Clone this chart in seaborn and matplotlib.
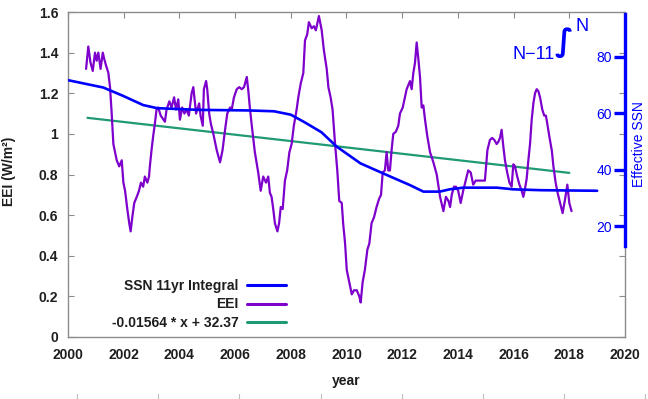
import numpy as np
import pandas as pd
import matplotlib
matplotlib.use("Agg")
import matplotlib.pyplot as plt
from matplotlib.lines import Line2D
import seaborn as sns

# ---------------- data ----------------
eei_year = [2000.65, 2000.73, 2000.81, 2000.89, 2000.97, 2001.03, 2001.09, 2001.17, 2001.25, 2001.30,
            2001.36, 2001.45, 2001.51, 2001.57, 2001.63, 2001.75, 2001.84, 2001.93, 2001.99, 2002.05,
            2002.13, 2002.20, 2002.25, 2002.31, 2002.38, 2002.47, 2002.55, 2002.62, 2002.70, 2002.76,
            2002.85, 2002.91, 2002.94, 2003.00, 2003.06, 2003.12, 2003.18, 2003.24, 2003.33, 2003.48,
            2003.54, 2003.64, 2003.72, 2003.81, 2003.88, 2003.96, 2004.02, 2004.10, 2004.18, 2004.26,
            2004.34, 2004.44, 2004.50, 2004.60, 2004.71, 2004.76, 2004.84, 2004.88, 2004.96, 2005.00,
            2005.07, 2005.13, 2005.22, 2005.34, 2005.46, 2005.55, 2005.64, 2005.72, 2005.82, 2005.88,
            2005.96, 2006.06, 2006.15, 2006.24, 2006.32, 2006.42, 2006.47, 2006.53, 2006.60, 2006.71,
            2006.83, 2006.92, 2007.01, 2007.11, 2007.19, 2007.25, 2007.31, 2007.37, 2007.43, 2007.52,
            2007.58, 2007.64, 2007.71, 2007.79, 2007.87, 2007.95, 2008.03, 2008.11, 2008.21, 2008.27,
            2008.36, 2008.45, 2008.51, 2008.59, 2008.65, 2008.75, 2008.83, 2008.90, 2009.01, 2009.11,
            2009.19, 2009.29, 2009.35, 2009.43, 2009.50, 2009.59, 2009.67, 2009.74, 2009.83, 2009.88,
            2009.95, 2010.01, 2010.10, 2010.19, 2010.27, 2010.37, 2010.46, 2010.51, 2010.58, 2010.66,
            2010.75, 2010.82, 2010.90, 2010.99, 2011.08, 2011.17, 2011.24, 2011.30, 2011.38, 2011.44,
            2011.50, 2011.56, 2011.62, 2011.68, 2011.77, 2011.86, 2011.92, 2012.02, 2012.10, 2012.16,
            2012.22, 2012.28, 2012.34, 2012.40, 2012.46, 2012.52, 2012.58, 2012.64, 2012.70, 2012.76,
            2012.82, 2012.90, 2013.00, 2013.12, 2013.24, 2013.36, 2013.48, 2013.57, 2013.66, 2013.72,
            2013.78, 2013.86, 2013.93, 2014.01, 2014.10, 2014.19, 2014.28, 2014.37, 2014.46, 2014.55,
            2014.64, 2014.73, 2014.85, 2014.97, 2015.06, 2015.15, 2015.23, 2015.31, 2015.39, 2015.45,
            2015.51, 2015.57, 2015.63, 2015.69, 2015.77, 2015.85, 2015.93, 2015.99, 2016.05, 2016.13,
            2016.21, 2016.29, 2016.35, 2016.41, 2016.47, 2016.53, 2016.59, 2016.65, 2016.71, 2016.77,
            2016.83, 2016.89, 2016.95, 2017.03, 2017.10, 2017.16, 2017.21, 2017.28, 2017.37, 2017.43,
            2017.51, 2017.58, 2017.67, 2017.76, 2017.85, 2017.93, 2018.00, 2018.08]
eei_value = [1.32, 1.43, 1.35, 1.31, 1.40, 1.36, 1.40, 1.32, 1.40, 1.37,
             1.34, 1.30, 1.23, 1.10, 0.95, 0.87, 0.84, 0.87, 0.76, 0.72,
             0.63, 0.56, 0.52, 0.59, 0.66, 0.69, 0.72, 0.76, 0.74, 0.79,
             0.76, 0.79, 0.84, 0.92, 0.99, 1.05, 1.12, 1.13, 1.09, 1.06,
             1.12, 1.16, 1.13, 1.18, 1.12, 1.17, 1.07, 1.13, 1.10, 1.12,
             1.09, 1.20, 1.23, 1.10, 1.15, 1.09, 1.04, 1.22, 1.26, 1.22,
             1.10, 1.05, 1.00, 0.92, 0.86, 0.92, 1.02, 1.10, 1.13, 1.12,
             1.18, 1.22, 1.23, 1.22, 1.23, 1.28, 1.22, 1.13, 1.04, 0.91,
             0.81, 0.72, 0.79, 0.76, 0.79, 0.71, 0.69, 0.63, 0.56, 0.52,
             0.56, 0.64, 0.63, 0.77, 0.82, 0.91, 0.95, 1.04, 1.12, 1.18,
             1.25, 1.30, 1.46, 1.49, 1.55, 1.52, 1.53, 1.51, 1.58, 1.51,
             1.41, 1.32, 1.23, 1.18, 1.12, 0.95, 0.82, 0.67, 0.66, 0.56,
             0.46, 0.33, 0.27, 0.21, 0.23, 0.23, 0.20, 0.17, 0.27, 0.33,
             0.43, 0.46, 0.56, 0.59, 0.64, 0.68, 0.70, 0.81, 0.82, 0.91,
             0.82, 0.82, 0.92, 1.00, 1.01, 1.04, 1.10, 1.13, 1.18, 1.22,
             1.24, 1.26, 1.22, 1.30, 1.35, 1.45, 1.37, 1.28, 1.13, 1.14,
             1.07, 0.99, 0.91, 0.86, 0.80, 0.69, 0.62, 0.69, 0.67, 0.64,
             0.70, 0.74, 0.74, 0.72, 0.66, 0.72, 0.77, 0.82, 0.81, 0.75,
             0.77, 0.77, 0.77, 0.77, 0.92, 0.97, 0.98, 0.97, 0.95, 0.96,
             0.98, 1.02, 0.94, 0.87, 0.81, 0.76, 0.74, 0.85, 0.84, 0.79,
             0.75, 0.72, 0.69, 0.73, 0.78, 0.87, 0.95, 1.07, 1.15, 1.20,
             1.22, 1.21, 1.18, 1.12, 1.09, 1.09, 1.05, 0.99, 0.92, 0.84,
             0.76, 0.71, 0.66, 0.61, 0.68, 0.75, 0.66, 0.62]

ssn_year = [2000.0, 2001.27, 2001.99, 2002.70, 2003.2, 2004.7, 2006.5, 2007.4, 2008.0, 2008.5,
            2009.1, 2009.65, 2010.5, 2011.44, 2012.28, 2012.76, 2013.35, 2013.7, 2014.2, 2015.4,
            2016.0, 2017.0, 2019.0]
ssn_value = [71.7, 69.1, 66.1, 62.9, 61.8, 61.2, 61.0, 60.7, 59.5, 56.8,
             53.3, 48.2, 42.3, 38.2, 34.6, 32.3, 32.3, 33.1, 33.7, 33.7,
             33.1, 32.8, 32.6]

fit_year = [2000.7, 2018.0]
fit_value = [1.079, 0.808]

x_ticks = [2000, 2002, 2004, 2006, 2008, 2010, 2012, 2014, 2016, 2018, 2020]
y_ticks = [0, 0.2, 0.4, 0.6, 0.8, 1.0, 1.2, 1.4, 1.6]
y_tick_labels = ["0", "0.2", "0.4", "0.6", "0.8", "1", "1.2", "1.4", "1.6"]
ssn_ticks = [20, 40, 60, 80]

label_ssn = "SSN 11yr Integral"
label_eei = "EEI"
label_fit = "-0.01564 * x + 32.37"

# ---------------- style ----------------
sns.set_theme(style="white")
plt.rcParams["font.family"] = ["Liberation Sans", "DejaVu Sans"]

BLUE = "#0000ff"
PURPLE = "#7d00cc"
GREEN = "#1f9a74"
GRAY = "#8c8c8c"
TXT = "#1e1e1e"

fig = plt.figure(figsize=(6.48, 3.99), dpi=100)
fig.patch.set_facecolor("white")
ax = fig.add_axes([0.1049, 0.1554, 0.8596, 0.8145])
ax2 = ax.twinx()

df_eei = pd.DataFrame({"year": eei_year, "val": eei_value})
df_fit = pd.DataFrame({"year": fit_year, "val": fit_value})
df_ssn = pd.DataFrame({"year": ssn_year, "val": ssn_value})

sns.lineplot(data=df_eei, x="year", y="val", ax=ax, color=PURPLE, lw=1.6,
             label=label_eei, legend=False, zorder=3)
sns.lineplot(data=df_fit, x="year", y="val", ax=ax, color=GREEN, lw=1.6,
             label=label_fit, legend=False, zorder=2)
sns.lineplot(data=df_ssn, x="year", y="val", ax=ax2, color=BLUE, lw=1.9,
             label=label_ssn, legend=False, zorder=4)

# main axes
ax.set_xlim(2000, 2020)
ax.set_ylim(0, 1.6)
ax.set_xticks(x_ticks)
ax.set_xticklabels([str(t) for t in x_ticks])
ax.set_yticks(y_ticks)
ax.set_yticklabels(y_tick_labels)
for s in ax.spines.values():
    s.set_color(GRAY)
    s.set_linewidth(1.0)
ax.tick_params(axis="both", direction="in", length=4, width=0.8, color=GRAY,
               labelsize=10, labelcolor=TXT, top=True, right=True,
               labelright=False, labeltop=False)
ax.tick_params(axis="x", pad=8)
ax.tick_params(axis="y", pad=7)
for t in ax.get_xticklabels() + ax.get_yticklabels():
    t.set_fontweight("bold")
ax.set_xlabel("year", fontsize=10, fontweight="bold", color=TXT)
ax.set_ylabel("EEI (W/m²)", fontsize=10, fontweight="bold", color=TXT)
ax.xaxis.set_label_coords(0.5, -0.136)
ax.xaxis.label.set_va("center")
ax.yaxis.set_label_coords(-0.106, 0.51)
ax.yaxis.label.set_va("center")

# secondary axis
ax2.set_ylim(-19.1, 95.8)
ax2.set_yticks(ssn_ticks)
ax2.set_yticklabels([str(t) for t in ssn_ticks])
for k in ["left", "top", "bottom"]:
    ax2.spines[k].set_visible(False)
ax2.spines["right"].set_color(BLUE)
ax2.spines["right"].set_linewidth(2.4)
ax2.spines["right"].set_bounds(13, 95)
ax2.tick_params(axis="y", direction="in", length=8, width=2.4, color=BLUE,
                labelcolor=BLUE, labelsize=10, pad=-9.5)
for t in ax2.get_yticklabels():
    t.set_horizontalalignment("right")
ax2.set_ylabel("Effective SSN", fontsize=10, color=BLUE)
ax2.yaxis.set_label_coords(1.025, 0.594)
ax2.yaxis.label.set_va("center")
ax2.set_xlabel("")

# N-11 integral annotation
ax2.text(0.874, 0.868, "N\u221211", transform=ax.transAxes, color=BLUE,
         fontsize=13, ha="right", va="center")
ax2.text(0.8905, 0.905, "\u222b", transform=ax.transAxes, color=BLUE,
         fontsize=22, ha="center", va="center", fontweight="bold",
         family=["DejaVu Sans"])
ax2.text(0.912, 0.956, "N", transform=ax.transAxes, color=BLUE,
         fontsize=13, ha="left", va="center")

# legend
h2, l2 = ax2.get_legend_handles_labels()
h1, l1 = ax.get_legend_handles_labels()
leg = ax2.legend(h2 + h1, l2 + l1, loc="center right",
                 bbox_to_anchor=(0.391, 0.10), bbox_transform=ax.transAxes,
                 frameon=False, markerfirst=False, borderpad=0, borderaxespad=0,
                 handlelength=2.8, handletextpad=0.6, labelspacing=0.3,
                 prop={"size": 10, "weight": "bold"})
for t in leg.get_texts():
    t.set_color(TXT)
for h in leg.get_lines():
    h.set_linewidth(2.2)

# faint ruler marks under the chart
for xp in [77, 158, 239, 321, 402, 483, 564, 645]:
    fig.add_artist(Line2D([xp / 648, xp / 648], [0.0, 5 / 399],
                          transform=fig.transFigure, color="#bbbbbb", lw=0.8))

fig.savefig("out.png", dpi=100)
